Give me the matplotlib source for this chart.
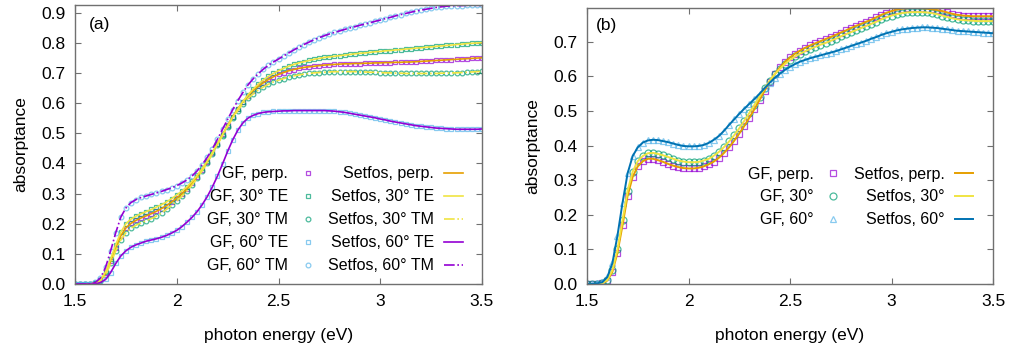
import numpy as np
import matplotlib.pyplot as plt
from matplotlib.ticker import FuncFormatter, MultipleLocator

plt.rcParams['font.family'] = ['Liberation Sans', 'DejaVu Sans']
plt.rcParams['font.size'] = 12

# photon energy grid (eV)
energy = [1.500, 1.525, 1.550, 1.575, 1.600, 1.625, 1.650, 1.675, 1.700, 1.725,
          1.750, 1.775, 1.800, 1.825, 1.850, 1.875, 1.900, 1.925, 1.950, 1.975,
          2.000, 2.025, 2.050, 2.075, 2.100, 2.125, 2.150, 2.175, 2.200, 2.225,
          2.250, 2.275, 2.300, 2.325, 2.350, 2.375, 2.400, 2.425, 2.450, 2.475,
          2.500, 2.525, 2.550, 2.575, 2.600, 2.625, 2.650, 2.675, 2.700, 2.725,
          2.750, 2.775, 2.800, 2.825, 2.850, 2.875, 2.900, 2.925, 2.950, 2.975,
          3.000, 3.025, 3.050, 3.075, 3.100, 3.125, 3.150, 3.175, 3.200, 3.225,
          3.250, 3.275, 3.300, 3.325, 3.350, 3.375, 3.400, 3.425, 3.450, 3.475,
          3.500]

# panel (a): GF and Setfos coincide
a_perp = [0.0, 0.0, 0.0, 0.0, 0.003, 0.012, 0.035, 0.075, 0.12, 0.16,
          0.186, 0.201, 0.211, 0.219, 0.226, 0.233, 0.241, 0.25, 0.26, 0.272,
          0.285, 0.299, 0.315, 0.334, 0.355, 0.379, 0.405, 0.434, 0.465, 0.496,
          0.526, 0.555, 0.581, 0.604, 0.624, 0.641, 0.655, 0.667, 0.678, 0.687,
          0.695, 0.701, 0.707, 0.711, 0.715, 0.718, 0.72, 0.722, 0.724, 0.726,
          0.727, 0.728, 0.729, 0.73, 0.73, 0.731, 0.731, 0.732, 0.732, 0.733,
          0.733, 0.734, 0.734, 0.735, 0.735, 0.736, 0.736, 0.737, 0.738, 0.739,
          0.74, 0.741, 0.742, 0.743, 0.744, 0.745, 0.746, 0.747, 0.748, 0.749,
          0.75]
a_30te = [0.0, 0.0, 0.0, 0.0, 0.003, 0.014, 0.04, 0.083, 0.13, 0.172,
          0.2, 0.215, 0.225, 0.233, 0.24, 0.247, 0.255, 0.263, 0.272, 0.283,
          0.295, 0.308, 0.322, 0.34, 0.36, 0.383, 0.408, 0.436, 0.465, 0.495,
          0.525, 0.553, 0.58, 0.605, 0.627, 0.646, 0.662, 0.676, 0.688, 0.698,
          0.707, 0.715, 0.722, 0.728, 0.733, 0.737, 0.741, 0.745, 0.748, 0.751,
          0.753, 0.755, 0.757, 0.759, 0.761, 0.763, 0.765, 0.766, 0.768, 0.77,
          0.771, 0.773, 0.774, 0.776, 0.777, 0.779, 0.78, 0.782, 0.783, 0.785,
          0.786, 0.788, 0.789, 0.791, 0.792, 0.794, 0.795, 0.797, 0.798, 0.799,
          0.80]
a_30tm = [0.0, 0.0, 0.0, 0.0, 0.003, 0.01, 0.03, 0.068, 0.11, 0.146,
          0.17, 0.185, 0.195, 0.203, 0.21, 0.217, 0.225, 0.236, 0.248, 0.261,
          0.275, 0.291, 0.308, 0.328, 0.35, 0.375, 0.402, 0.431, 0.462, 0.492,
          0.522, 0.55, 0.575, 0.597, 0.615, 0.63, 0.643, 0.653, 0.662, 0.67,
          0.676, 0.681, 0.686, 0.69, 0.693, 0.696, 0.698, 0.7, 0.701, 0.702,
          0.703, 0.704, 0.704, 0.704, 0.704, 0.704, 0.703, 0.703, 0.702, 0.702,
          0.701, 0.70, 0.70, 0.699, 0.699, 0.698, 0.698, 0.698, 0.698, 0.698,
          0.698, 0.698, 0.699, 0.699, 0.70, 0.70, 0.701, 0.702, 0.703, 0.704,
          0.705]
a_60te = [0.0, 0.0, 0.0, 0.0, 0.0, 0.005, 0.015, 0.038, 0.068, 0.093,
          0.11, 0.122, 0.13, 0.136, 0.142, 0.146, 0.15, 0.155, 0.161, 0.169,
          0.178, 0.19, 0.205, 0.221, 0.24, 0.263, 0.29, 0.322, 0.358, 0.398,
          0.44, 0.478, 0.51, 0.534, 0.55, 0.559, 0.565, 0.569, 0.571, 0.572,
          0.573, 0.574, 0.574, 0.575, 0.575, 0.575, 0.575, 0.575, 0.575, 0.575,
          0.574, 0.573, 0.571, 0.569, 0.566, 0.563, 0.56, 0.557, 0.554, 0.551,
          0.547, 0.544, 0.54, 0.537, 0.534, 0.531, 0.528, 0.525, 0.523, 0.521,
          0.519, 0.517, 0.516, 0.515, 0.514, 0.513, 0.513, 0.513, 0.513, 0.513,
          0.514]
a_60tm = [0.0, 0.0, 0.0, 0.0, 0.005, 0.02, 0.055, 0.11, 0.17, 0.222,
          0.252, 0.27, 0.28, 0.287, 0.292, 0.297, 0.302, 0.307, 0.313, 0.319,
          0.326, 0.335, 0.345, 0.358, 0.375, 0.396, 0.42, 0.448, 0.48, 0.513,
          0.546, 0.578, 0.608, 0.635, 0.66, 0.68, 0.697, 0.712, 0.725, 0.736,
          0.746, 0.756, 0.766, 0.776, 0.785, 0.794, 0.802, 0.81, 0.817, 0.823,
          0.829, 0.834, 0.839, 0.844, 0.849, 0.853, 0.858, 0.862, 0.866, 0.871,
          0.875, 0.88, 0.884, 0.889, 0.893, 0.897, 0.901, 0.905, 0.908, 0.911,
          0.914, 0.917, 0.919, 0.921, 0.922, 0.923, 0.923, 0.924, 0.924, 0.924,
          0.924]

# panel (b)
b_perp = [0.0, 0.0, 0.0, 0.002, 0.01, 0.035, 0.09, 0.17, 0.255, 0.31,
          0.34, 0.355, 0.362, 0.362, 0.358, 0.353, 0.347, 0.342, 0.338, 0.335,
          0.334, 0.334, 0.336, 0.34, 0.346, 0.354, 0.365, 0.379, 0.395, 0.414,
          0.435, 0.457, 0.481, 0.506, 0.532, 0.559, 0.585, 0.607, 0.626, 0.642,
          0.655, 0.666, 0.675, 0.683, 0.69, 0.696, 0.702, 0.708, 0.714, 0.72,
          0.727, 0.733, 0.74, 0.746, 0.752, 0.758, 0.764, 0.771, 0.778, 0.784,
          0.789, 0.793, 0.796, 0.797, 0.798, 0.798, 0.797, 0.796, 0.794, 0.792,
          0.789, 0.785, 0.781, 0.778, 0.776, 0.775, 0.774, 0.774, 0.774, 0.774,
          0.774]
b_30 = [0.0, 0.0, 0.0, 0.002, 0.012, 0.04, 0.1, 0.185, 0.27, 0.325,
        0.355, 0.37, 0.378, 0.379, 0.376, 0.372, 0.367, 0.362, 0.357, 0.354,
        0.352, 0.352, 0.353, 0.357, 0.362, 0.371, 0.382, 0.396, 0.412, 0.43,
        0.45, 0.472, 0.495, 0.518, 0.542, 0.566, 0.588, 0.607, 0.622, 0.636,
        0.648, 0.658, 0.666, 0.673, 0.68, 0.686, 0.692, 0.697, 0.703, 0.709,
        0.716, 0.722, 0.728, 0.734, 0.74, 0.746, 0.752, 0.758, 0.765, 0.771,
        0.776, 0.78, 0.783, 0.785, 0.786, 0.786, 0.786, 0.785, 0.783, 0.78,
        0.776, 0.772, 0.768, 0.765, 0.763, 0.762, 0.761, 0.76, 0.76, 0.76,
        0.76]
b_60 = [0.0, 0.0, 0.002, 0.005, 0.02, 0.06, 0.14, 0.235, 0.32, 0.37,
        0.395, 0.409, 0.415, 0.417, 0.416, 0.413, 0.41, 0.406, 0.402, 0.399,
        0.398, 0.398, 0.399, 0.402, 0.408, 0.417, 0.428, 0.443, 0.46, 0.476,
        0.492, 0.507, 0.521, 0.535, 0.55, 0.566, 0.582, 0.596, 0.608, 0.619,
        0.628, 0.636, 0.643, 0.648, 0.653, 0.657, 0.661, 0.665, 0.669, 0.673,
        0.678, 0.683, 0.688, 0.693, 0.698, 0.703, 0.709, 0.714, 0.72, 0.725,
        0.729, 0.733, 0.736, 0.738, 0.74, 0.741, 0.742, 0.742, 0.741, 0.74,
        0.738, 0.736, 0.734, 0.732, 0.731, 0.73, 0.729, 0.728, 0.727, 0.726,
        0.725]

labels_a = ['perp.', '30° TE', '30° TM', '60° TE', '60° TM']
labels_b = ['perp.', '30°', '60°']

purple = '#9400d3'
green = '#009e73'
lblue = '#56b4e9'
orange = '#e69f00'
yellow = '#f0e442'
blue = '#0072b2'
frame = '#707070'

fig = plt.figure(figsize=(10.1, 3.52), dpi=100)
axa = fig.add_axes([0.0743, 0.1932, 0.4029, 0.7926])
axb = fig.add_axes([0.5812, 0.1932, 0.4020, 0.7832])

x = np.array(energy)
leg_kw = dict(ncol=2, markerfirst=False, frameon=False, loc='lower right',
              handlelength=1.15, columnspacing=0.7, labelspacing=0.5,
              handletextpad=0.65, borderpad=0, borderaxespad=0, fontsize=11.5)

# --- panel (a)
gf_a = [(a_perp, 's', purple), (a_30te, 's', green), (a_30tm, 'o', green),
        (a_60te, 's', lblue), (a_60tm, 'o', lblue)]
sf_a = [(a_perp, '-', orange), (a_30te, '-', yellow), (a_30tm, '-.', yellow),
        (a_60te, '-', purple), (a_60tm, '-.', purple)]
h_gf, h_sf = [], []
for (y, m, c), lab in zip(gf_a, labels_a):
    h, = axa.plot(x, y, ls='none', marker=m, ms=3.4, mfc='none', mec=c,
                  mew=0.9, alpha=0.7, label='GF, ' + lab)
    h_gf.append(h)
for (y, ls, c), lab in zip(sf_a, labels_a):
    h, = axa.plot(x, y, ls=ls, color=c, lw=1.2, label='Setfos, ' + lab)
    h_sf.append(h)
axa.set_ylim(0, 0.925)
axa.yaxis.set_major_locator(MultipleLocator(0.1))
axa.yaxis.set_major_formatter(FuncFormatter(lambda v, p: '%.1f' % v))
axa.legend(h_gf + h_sf, [h.get_label() for h in h_gf + h_sf],
           bbox_to_anchor=(0.953, 0.038), **leg_kw)
axa.text(0.035, 0.93, '(a)', transform=axa.transAxes, fontsize=12.5, va='center')

# --- panel (b)
gf_b = [(b_perp, 's', purple), (b_30, 'o', green), (b_60, '^', lblue)]
sf_b = [(b_perp, orange), (b_30, yellow), (b_60, blue)]
h_gf, h_sf = [], []
for (y, m, c), lab in zip(gf_b, labels_b):
    h, = axb.plot(x, y, ls='none', marker=m, ms=5, mfc='none', mec=c,
                  mew=0.9, alpha=0.7, label='GF, ' + lab)
    h_gf.append(h)
for (y, c), lab in zip(sf_b, labels_b):
    h, = axb.plot(x, y, ls='-', color=c, lw=1.4, label='Setfos, ' + lab)
    h_sf.append(h)
axb.set_ylim(0, 0.797)
axb.yaxis.set_major_locator(MultipleLocator(0.1))
axb.yaxis.set_major_formatter(FuncFormatter(lambda v, p: '%.1f' % v))
axb.legend(h_gf + h_sf, [h.get_label() for h in h_gf + h_sf],
           bbox_to_anchor=(0.951, 0.205), **leg_kw)
axb.text(0.021, 0.938, '(b)', transform=axb.transAxes, fontsize=12.5, va='center')

for ax in (axa, axb):
    ax.set_xlim(1.5, 3.5)
    ax.xaxis.set_major_locator(MultipleLocator(0.5))
    ax.xaxis.set_major_formatter(FuncFormatter(lambda v, p: '%g' % v))
    ax.tick_params(direction='in', length=4, width=0.8, color=frame,
                   top=True, right=True, pad=7, labelsize=12.5)
    for s in ax.spines.values():
        s.set_color(frame)
        s.set_linewidth(1.0)
    ax.set_xlabel('photon energy (eV)', labelpad=14, fontsize=12.5)
    ax.set_ylabel('absorptance', labelpad=9, fontsize=12.5)

plt.savefig('out.png', dpi=100)
